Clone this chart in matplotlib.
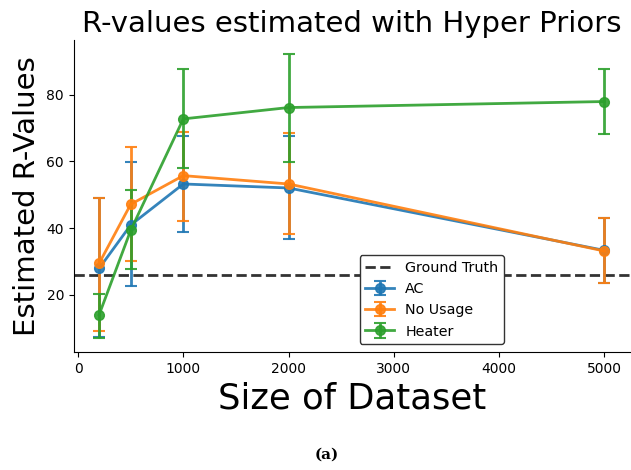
import matplotlib
matplotlib.use("Agg")
import matplotlib.pyplot as plt

sizes = [200, 500, 1000, 2000, 5000]
ground_truth = 26

ac_mean = [27.9, 40.9, 53.2, 52.0, 33.3]
ac_low = [7.5, 22.5, 38.9, 36.7, 23.5]
ac_high = [49.0, 59.8, 67.6, 67.6, 43.1]

nu_mean = [29.4, 47.1, 55.7, 53.2, 33.1]
nu_low = [9.3, 30.1, 42.1, 38.3, 23.4]
nu_high = [49.0, 64.2, 68.9, 68.5, 43.1]

ht_mean = [14.0, 39.3, 72.7, 76.1, 77.9]
ht_low = [7.1, 27.7, 58.0, 59.8, 68.1]
ht_high = [20.2, 51.3, 87.7, 92.1, 87.7]

series = [
    ("AC", ac_mean, ac_low, ac_high, "#1f77b4"),
    ("No Usage", nu_mean, nu_low, nu_high, "#ff7f0e"),
    ("Heater", ht_mean, ht_low, ht_high, "#2ca02c"),
]

fig = plt.figure(figsize=(6.31, 4.70), dpi=100)
ax = fig.add_axes([0.117, 0.251, 0.881, 0.664])

ax.axhline(ground_truth, color="#333333", linestyle="--", lw=2,
           label="Ground Truth")
for name, m, lo, hi, c in series:
    err = [[mm - l for mm, l in zip(m, lo)], [h - mm for mm, h in zip(m, hi)]]
    ax.errorbar(sizes, m, yerr=err, color=c, marker="o", markersize=7,
                lw=2, capsize=4, elinewidth=2, capthick=1.5, ecolor=c,
                alpha=0.9, label=name)

ax.set_yticks([20, 40, 60, 80])
ax.set_xticks([0, 1000, 2000, 3000, 4000, 5000])
ax.tick_params(labelsize=10)
ax.set_title("R-values estimated with Hyper Priors", fontsize=21)
ax.set_ylabel("Estimated R-Values", fontsize=21)
ax.set_xlabel("Size of Dataset", fontsize=25.5)
for s in ("top", "right"):
    ax.spines[s].set_visible(False)

leg = ax.legend(loc="lower left", bbox_to_anchor=(0.514, 0.025),
                fontsize=10.3, framealpha=1, edgecolor="#333333",
                borderaxespad=0, handlelength=2.0)
leg.get_frame().set_linewidth(1)

fig.text(0.518, 0.025, "(a)", ha="center", fontsize=11, fontweight="bold",
         family="DejaVu Serif")

fig.savefig("out.png", dpi=100)
